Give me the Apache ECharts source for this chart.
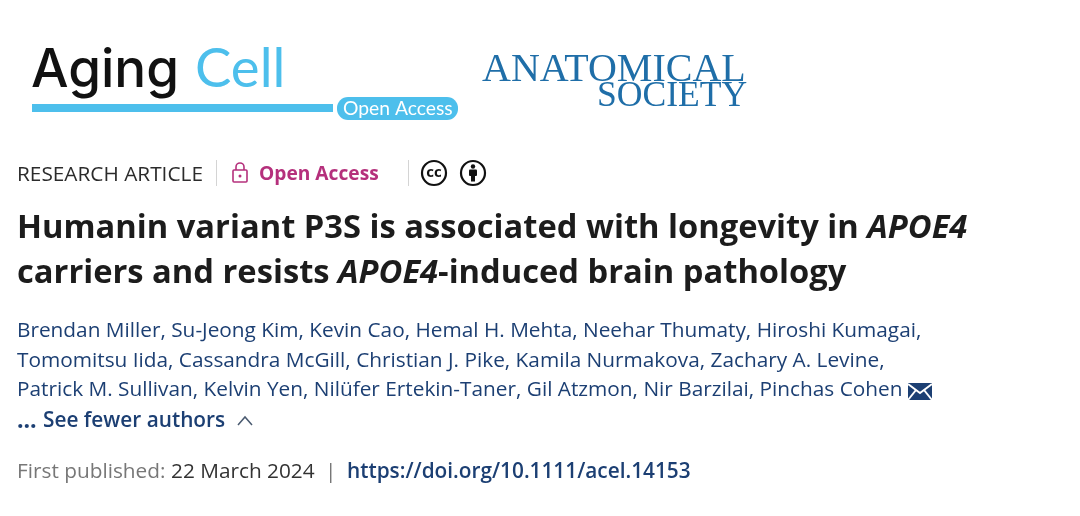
<!DOCTYPE html>
<html>
<head>
<meta charset="utf-8">
<style>
  html, body { margin: 0; padding: 0; background: #fff; }
  #main { width: 1080px; height: 516px; }
</style>
<script src="https://cdn.jsdelivr.net/npm/echarts@6/dist/echarts.min.js"></script>
</head>
<body>
<div id="main"></div>
<script>
// header texts
var journalWords = ['Aging', 'Cell'];
var badgeText = 'Open Access';
var societyLines = ['ANATOMICAL', 'SOCIETY'];
var articleType = 'RESEARCH ARTICLE';
var titleLines = [
  [['Humanin variant P3S is associated with longevity in ', 'b'], ['APOE4', 'i']],
  [['carriers and resists ', 'b'], ['APOE4', 'i'], ['-induced brain pathology', 'b']]
];
var authorLines = [
  'Brendan Miller, Su-Jeong Kim, Kevin Cao, Hemal H. Mehta, Neehar Thumaty, Hiroshi Kumagai,',
  'Tomomitsu Iida, Cassandra McGill, Christian J. Pike, Kamila Nurmakova, Zachary A. Levine,',
  'Patrick M. Sullivan, Kelvin Yen, Nilüfer Ertekin-Taner, Gil Atzmon, Nir Barzilai, Pinchas Cohen'
];
var fewerAuthors = ['...', 'See fewer authors'];
var publishedLabel = 'First published:';
var publishedDate = '22 March 2024';
var doiLink = 'https://doi.org/10.1111/acel.14153';

var FONT = '"Open Sans"';
var NAVY = '#1c3f73';
var SKY = '#4dbfec';
var PINK = '#b5307c';

function label(x, y, text, size, color, weight, family) {
  return {
    type: 'text', x: x, y: y,
    style: {
      text: text, fontSize: size, fill: color,
      fontWeight: weight || 'normal', fontFamily: family || FONT,
      verticalAlign: 'middle', align: 'left'
    }
  };
}

function titleRow(x, y, parts) {
  var t = parts.map(function (p) { return '{' + p[1] + '|' + p[0] + '}'; }).join('');
  return {
    type: 'text', x: x, y: y,
    style: {
      text: t, verticalAlign: 'middle', align: 'left',
      rich: {
        b: { fontSize: 32.7, fontWeight: 'bold', fontFamily: FONT, fill: '#1c1c1c' },
        i: { fontSize: 32.7, fontWeight: 'bold', fontStyle: 'italic', fontFamily: FONT, fill: '#1c1c1c' }
      }
    }
  };
}

var items = [];

// journal logo
items.push(label(31, 71, journalWords[0], 53, '#111111', 500, 'Inter'));
items.push(label(195, 69, journalWords[1], 54.5, SKY, 'normal', 'Lato'));
items.push({ type: 'rect', shape: { x: 32, y: 104, width: 301, height: 8 }, style: { fill: SKY } });
items.push({ type: 'rect', shape: { x: 337, y: 97, width: 121, height: 23, r: 11 }, style: { fill: SKY } });
items.push(label(343, 109, badgeText, 19.3, '#ffffff', 'normal', 'Lato'));

// society logo
items.push(label(482, 70, societyLines[0], 40, '#1f6ea8', 'normal', '"Liberation Serif"'));
items.push(label(597, 96.5, societyLines[1], 35.6, '#1f6ea8', 'normal', '"Liberation Serif"'));

// article type row
items.push(label(17, 175, articleType, 20.8, '#2b2b2b'));
items.push({ type: 'line', shape: { x1: 216.5, y1: 160, x2: 216.5, y2: 186 }, style: { stroke: '#d4d4d4', lineWidth: 1 } });
// lock icon
items.push({ type: 'rect', shape: { x: 233, y: 170, width: 14, height: 12, r: 1 }, style: { fill: 'none', stroke: PINK, lineWidth: 1.6 } });
items.push({ type: 'arc', shape: { cx: 240, cy: 167, r: 4, startAngle: Math.PI, endAngle: 2 * Math.PI }, style: { fill: 'none', stroke: PINK, lineWidth: 1.6 } });
items.push({ type: 'line', shape: { x1: 236, y1: 167, x2: 236, y2: 170 }, style: { stroke: PINK, lineWidth: 1.6 } });
items.push({ type: 'line', shape: { x1: 244, y1: 167, x2: 244, y2: 170 }, style: { stroke: PINK, lineWidth: 1.6 } });
items.push({ type: 'circle', shape: { cx: 240, cy: 176, r: 1.5 }, style: { fill: PINK } });
items.push(label(259, 175, 'Open Access', 19.2, PINK, 'bold'));
items.push({ type: 'line', shape: { x1: 408.5, y1: 160, x2: 408.5, y2: 186 }, style: { stroke: '#d4d4d4', lineWidth: 1 } });

// cc and by icons
items.push({ type: 'circle', shape: { cx: 434, cy: 173, r: 12 }, style: { fill: '#fff', stroke: '#111', lineWidth: 2.2 } });
items.push({
  type: 'text', x: 434, y: 172.5,
  style: { text: 'cc', fontSize: 15, fontWeight: 'bold', fontFamily: FONT, fill: '#111', align: 'center', verticalAlign: 'middle' }
});
items.push({ type: 'circle', shape: { cx: 473, cy: 173, r: 12 }, style: { fill: '#fff', stroke: '#111', lineWidth: 2.2 } });
items.push({ type: 'circle', shape: { cx: 473, cy: 166.5, r: 2.2 }, style: { fill: '#111' } });
items.push({ type: 'rect', shape: { x: 469, y: 169.5, width: 8, height: 6.5, r: 1 }, style: { fill: '#111' } });
items.push({ type: 'rect', shape: { x: 471, y: 175, width: 4, height: 6.5 }, style: { fill: '#111' } });

// title
titleLines.forEach(function (parts, i) {
  items.push(titleRow(17, 229 + i * 44.5, parts));
});

// authors
authorLines.forEach(function (line, i) {
  items.push(label(17, 331.5 + i * 29.5, line, 20.8, NAVY));
});

// mail icon
items.push({ type: 'rect', shape: { x: 908, y: 383, width: 24, height: 17 }, style: { fill: NAVY } });
items.push({ type: 'polyline', shape: { points: [[908, 384], [920, 393], [932, 384]] }, style: { fill: 'none', stroke: '#fff', lineWidth: 2 } });
items.push({ type: 'line', shape: { x1: 908, y1: 400, x2: 916, y2: 390 }, style: { stroke: '#fff', lineWidth: 2 } });
items.push({ type: 'line', shape: { x1: 932, y1: 400, x2: 924, y2: 390 }, style: { stroke: '#fff', lineWidth: 2 } });

// see fewer authors
items.push(label(17, 421, fewerAuthors[0], 23, NAVY, 700));
items.push(label(43, 421, fewerAuthors[1], 20.8, NAVY, 600));
items.push({ type: 'polyline', shape: { points: [[238, 425], [245, 417], [252, 425]] }, style: { fill: 'none', stroke: '#4a5a70', lineWidth: 1.5 } });

// publication row
items.push(label(17, 472, publishedLabel, 20.8, '#777777'));
items.push(label(171, 472, publishedDate, 20.8, '#333333'));
items.push(label(325, 472, '|', 20.8, '#777777'));
items.push(label(347, 472, doiLink, 20.8, NAVY, 600));

var chart = echarts.init(document.getElementById('main'));
chart.setOption({
  backgroundColor: '#ffffff',
  animation: false,
  graphic: { elements: items }
});
</script>
</body>
</html>
